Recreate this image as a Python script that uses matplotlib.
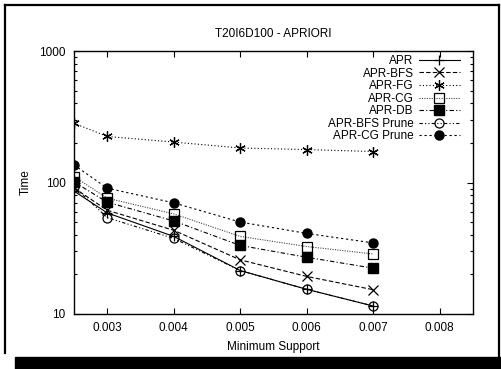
import matplotlib
matplotlib.use("Agg")
import matplotlib.pyplot as plt
from matplotlib.patches import Rectangle
from matplotlib.lines import Line2D
from matplotlib.ticker import FixedLocator, FixedFormatter, LogLocator, NullFormatter

plt.rcParams["font.family"] = ["Liberation Sans", "DejaVu Sans"]
plt.rcParams["font.size"] = 8.5

# data
support = [0.0025, 0.003, 0.004, 0.005, 0.006, 0.007]
apr = [86, 58.7, 38.9, 21.4, 15.4, 11.5]
apr_bfs = [91, 61.5, 43.3, 25.8, 19.3, 15.3]
apr_fg = [282, 224, 203, 183, 178, 172]
apr_cg = [111, 76, 57.7, 38.9, 32.6, 28.6]
apr_db = [101, 70.8, 51, 33.2, 27, 22.3]
apr_bfs_prune = [93, 54, 37.6, 21.4, 15.4, 11.5]
apr_cg_prune = [136, 90.5, 70, 50, 41, 34.7]

x_ticks = [0.003, 0.004, 0.005, 0.006, 0.007, 0.008]
x_labels = ["0.003", "0.004", "0.005", "0.006", "0.007", "0.008"]
y_ticks = [10, 100, 1000]
y_labels = ["10", "100", "1000"]

W, H = 501, 369
fig = plt.figure(figsize=(W / 100, H / 100), dpi=100)
fig.patch.set_facecolor("white")

# outer frame with drop shadow
def fx(p):
    return p / W

def fy(p):
    return 1 - p / H

fig.add_artist(Line2D([fx(5), fx(5)], [fy(5), fy(353)], color="black", lw=1.6))
fig.add_artist(Line2D([fx(5), fx(499)], [fy(5), fy(5)], color="black", lw=1.6))
fig.add_artist(Line2D([fx(499), fx(499)], [fy(5), fy(358)], color="black", lw=1.6))
fig.add_artist(Rectangle((fx(15), 0), 1 - fx(15), fy(357), color="black",
                         transform=fig.transFigure))

ax = fig.add_axes([74 / W, 1 - 314 / H, 399 / W, 263 / H])

ms = 6.5
lw = 0.8
ax.plot(support, apr, color="black", lw=lw, ls="-", marker="+", ms=ms + 1,
        mew=0.9, label="APR")
ax.plot(support, apr_bfs, color="black", lw=lw, ls=(0, (4, 2)), marker="x",
        ms=ms, mew=0.9, label="APR-BFS")
ax.plot(support, apr_fg, color="black", lw=lw, ls=(0, (1, 2)), marker=(6, 2, 0),
        ms=ms + 1, mew=0.9, label="APR-FG")
ax.plot(support, apr_cg, color="#444444", lw=lw, ls=(0, (1, 1.2)), marker="s",
        ms=ms, mfc="none", mec="black", mew=0.9, label="APR-CG")
ax.plot(support, apr_db, color="black", lw=lw, ls=(0, (4, 2, 1, 2)), marker="s",
        ms=ms, mfc="black", mec="black", label="APR-DB")
ax.plot(support, apr_bfs_prune, color="black", lw=lw, ls=(0, (3, 2, 1, 2, 1, 2)),
        marker="o", ms=ms, mfc="none", mec="black", mew=0.9, label="APR-BFS Prune")
ax.plot(support, apr_cg_prune, color="black", lw=lw, ls=(0, (2, 2.5)), marker="o",
        ms=ms, mfc="black", mec="black", label="APR-CG Prune")

ax.set_yscale("log")
ax.set_xlim(0.0025, 0.0085)
ax.set_ylim(10, 1000)
ax.xaxis.set_major_locator(FixedLocator(x_ticks))
ax.xaxis.set_major_formatter(FixedFormatter(x_labels))
ax.yaxis.set_major_locator(FixedLocator(y_ticks))
ax.yaxis.set_major_formatter(FixedFormatter(y_labels))
ax.yaxis.set_minor_locator(LogLocator(base=10, subs=range(2, 10)))
ax.yaxis.set_minor_formatter(NullFormatter())
ax.tick_params(which="both", direction="in", top=True, right=True, width=0.8,
               labelsize=8.5, pad=6)
ax.tick_params(which="major", length=4)
ax.tick_params(which="minor", length=2.5)
for s in ax.spines.values():
    s.set_linewidth(1.0)

ax.set_title("T20I6D100 - APRIORI", fontsize=8.5, pad=10)
ax.set_xlabel("Minimum Support", labelpad=5)
ax.set_ylabel("Time", labelpad=5)

ax.legend(loc="upper right", bbox_to_anchor=(0.967, 0.985), frameon=False,
          markerfirst=False, handlelength=3.5, handletextpad=0.42,
          labelspacing=0.05, borderaxespad=0, borderpad=0, fontsize=8.5)

fig.savefig("out.png", dpi=100)
